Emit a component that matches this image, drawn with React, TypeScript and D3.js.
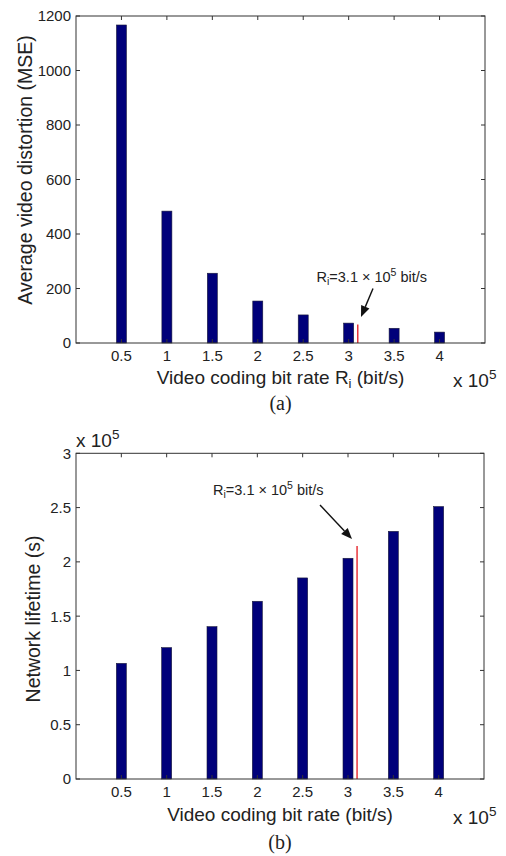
import React from "react";
import * as d3 from "d3";

const rates = [0.5, 1, 1.5, 2, 2.5, 3, 3.5, 4];
const distortion = [1167, 484, 256, 154, 103, 73, 54, 40];
const lifetime = [1.065, 1.21, 1.403, 1.637, 1.852, 2.033, 2.281, 2.509];
const xTicks = [0.5, 1, 1.5, 2, 2.5, 3, 3.5, 4];
const yTicksA = [0, 200, 400, 600, 800, 1000, 1200];
const yTicksB = [0, 0.5, 1, 1.5, 2, 2.5, 3];
const optRate = 3.1;
const optDistortion = 68;
const optLifetime = 2.146;

const W = 506;
const H = 856;
const FONT = "'Liberation Sans', Arial, Helvetica, sans-serif";
const BAR = "#00007a";
const AXIS = "#333";
const TXT = "#222";

type PanelProps = {
  top: number;
  bottom: number;
  left: number;
  right: number;
  values: number[];
  yMax: number;
  yTicks: number[];
  yFmt: (v: number) => string;
  optY: number;
  ylabel: string;
  ylabelX: number;
  ylabelY: number;
  xlabelSub: boolean;
  xlabelY: number;
  capY: number;
  cap: string;
  ann: { tx: number; ty: number; x1: number; y1: number; x2: number; y2: number };
  topExp: boolean;
};

function Arrow({ x1, y1, x2, y2 }: { x1: number; y1: number; x2: number; y2: number }) {
  const a = Math.atan2(y2 - y1, x2 - x1);
  const L = 11;
  const w = 4.5;
  const bx = x2 - L * Math.cos(a);
  const by = y2 - L * Math.sin(a);
  const px = -Math.sin(a) * w;
  const py = Math.cos(a) * w;
  const pts = `${x2},${y2} ${bx + px},${by + py} ${bx - px},${by - py}`;
  return (
    <g>
      <line x1={x1} y1={y1} x2={bx} y2={by} stroke="#111" strokeWidth={1.4} />
      <polygon points={pts} fill="#111" />
    </g>
  );
}

function Panel(p: PanelProps) {
  const x = d3.scaleLinear().domain([0, 4.5]).range([p.left, p.right]);
  const y = d3.scaleLinear().domain([0, p.yMax]).range([p.bottom, p.top]);
  const bw = 10;
  const tl = 4;
  return (
    <g fontFamily={FONT} fill={TXT}>
      {rates.map((r, i) => (
        <rect
          key={i}
          x={x(r) - bw / 2}
          y={y(p.values[i])}
          width={bw}
          height={y(0) - y(p.values[i])}
          fill={BAR}
          stroke="#1a1a3a"
          strokeWidth={0.6}
        />
      ))}
      <line x1={x(optRate)} x2={x(optRate)} y1={y(0)} y2={y(p.optY)} stroke="#e8343a" strokeWidth={1.5} />
      <rect x={p.left} y={p.top} width={p.right - p.left} height={p.bottom - p.top} fill="none" stroke={AXIS} strokeWidth={1} />
      {xTicks.map((t) => (
        <g key={"x" + t}>
          <line x1={x(t)} x2={x(t)} y1={p.bottom} y2={p.bottom - tl} stroke={AXIS} />
          <line x1={x(t)} x2={x(t)} y1={p.top} y2={p.top + tl} stroke={AXIS} />
          <text x={x(t)} y={p.bottom + 18} textAnchor="middle" fontSize={15}>
            {String(t)}
          </text>
        </g>
      ))}
      {p.yTicks.map((t) => (
        <g key={"y" + t}>
          <line x1={p.left} x2={p.left + tl} y1={y(t)} y2={y(t)} stroke={AXIS} />
          <line x1={p.right} x2={p.right - tl} y1={y(t)} y2={y(t)} stroke={AXIS} />
          <text x={p.left - 5} y={y(t)} dy="0.36em" textAnchor="end" fontSize={15}>
            {p.yFmt(t)}
          </text>
        </g>
      ))}
      <text
        transform={`translate(${p.ylabelX},${p.ylabelY}) rotate(-90)`}
        textAnchor="middle"
        fontSize={19.5}
      >
        {p.ylabel}
      </text>
      {p.xlabelSub ? (
        <text x={(p.left + p.right) / 2} y={p.xlabelY} textAnchor="middle" fontSize={19}>
          Video coding bit rate R
          <tspan fontSize={13} dy={4}>i</tspan>
          <tspan dy={-4}> (bit/s)</tspan>
        </text>
      ) : (
        <text x={(p.left + p.right) / 2} y={p.xlabelY} textAnchor="middle" fontSize={19}>
          Video coding bit rate (bit/s)
        </text>
      )}
      <text x={453} y={p.xlabelY + 3} fontSize={19}>
        x 10<tspan fontSize={13.5} dy={-8}>5</tspan>
      </text>
      {p.topExp && (
        <text x={p.left} y={p.top - 6} fontSize={19}>
          x 10<tspan fontSize={13.5} dy={-8}>5</tspan>
        </text>
      )}
      <text x={p.ann.tx} y={p.ann.ty} fontSize={14.5}>
        R<tspan fontSize={10.5} dy={3}>i</tspan>
        <tspan dy={-3}>=3.1 × 10</tspan>
        <tspan fontSize={10.5} dy={-6}>5</tspan>
        <tspan dy={6}> bit/s</tspan>
      </text>
      <Arrow x1={p.ann.x1} y1={p.ann.y1} x2={p.ann.x2} y2={p.ann.y2} />
      <text
        x={(p.left + p.right) / 2}
        y={p.capY}
        textAnchor="middle"
        fontSize={20}
        fontFamily="'Liberation Serif', 'Times New Roman', serif"
      >
        {p.cap}
      </text>
    </g>
  );
}

export default function App() {
  return (
    <svg
      width={W}
      height={H}
      style={{ position: "absolute", left: 0, top: 0, background: "#fff" }}
    >
      <rect width={W} height={H} fill="#fff" />
      <Panel
        top={16}
        bottom={343}
        left={76}
        right={485}
        values={distortion}
        yMax={1200}
        yTicks={yTicksA}
        yFmt={(v) => String(v)}
        optY={optDistortion}
        ylabel="Average video distortion (MSE)"
        ylabelX={32}
        ylabelY={170}
        xlabelSub={true}
        xlabelY={384}
        capY={410}
        cap="(a)"
        ann={{ tx: 316.5, ty: 282, x1: 373, y1: 288.5, x2: 361, y2: 317 }}
        topExp={false}
      />
      <Panel
        top={453.3}
        bottom={779}
        left={76}
        right={484}
        values={lifetime}
        yMax={3}
        yTicks={yTicksB}
        yFmt={(v) => String(v)}
        optY={optLifetime}
        ylabel="Network lifetime (s)"
        ylabelX={40}
        ylabelY={619}
        xlabelSub={false}
        xlabelY={821}
        capY={849}
        cap="(b)"
        ann={{ tx: 213, ty: 495, x1: 320, y1: 505, x2: 352, y2: 539 }}
        topExp={true}
      />
    </svg>
  );
}
